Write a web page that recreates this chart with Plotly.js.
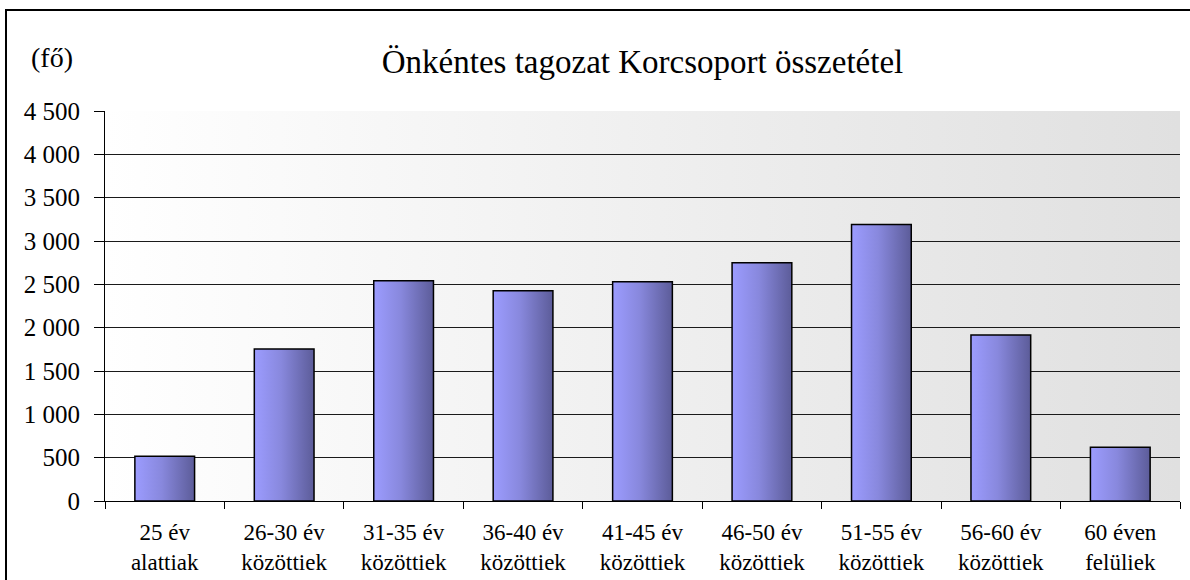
<!DOCTYPE html>
<html>
<head>
<meta charset="utf-8">
<script src="https://cdn.plot.ly/plotly-3.0.1.min.js"></script>
<style>
  html, body { margin: 0; padding: 0; background: #fff; }
  #wrap { position: relative; width: 1190px; height: 580px; overflow: hidden; }
  #plot { width: 1190px; height: 580px; }
  #plot text, #plot tspan { font-family: "Times New Roman", "Liberation Serif", serif !important; }
  #frame { position: absolute; left: 5px; top: 9px; width: 1200px; height: 600px;
           border: 2px solid #000; pointer-events: none; box-sizing: border-box; }
</style>
</head>
<body>
<div id="wrap">
  <div id="plot"></div>
  <div id="frame"></div>
</div>
<script>
const categories = [
  "25 év<br>alattiak",
  "26-30 év<br>közöttiek",
  "31-35 év<br>közöttiek",
  "36-40 év<br>közöttiek",
  "41-45 év<br>közöttiek",
  "46-50 év<br>közöttiek",
  "51-55 év<br>közöttiek",
  "56-60 év<br>közöttiek",
  "60 éven<br>felüliek"
];
const values = [515, 1755, 2540, 2425, 2530, 2750, 3190, 1915, 620];
const yTicks = [0, 500, 1000, 1500, 2000, 2500, 3000, 3500, 4000, 4500];
const titleText = "Önkéntes tagozat Korcsoport összetétel";
const unitText = "(fő)";

const fontName = "Times New Roman";

const trace = {
  type: "bar",
  x: categories,
  y: values,
  width: 0.5,
  marker: { color: "#7b7bcc", line: { color: "#000", width: 1.5 } },
  hoverinfo: "none"
};

const layout = {
  width: 1190,
  height: 580,
  margin: { l: 105, r: 10, t: 111, b: 79 },
  paper_bgcolor: "rgba(0,0,0,0)",
  plot_bgcolor: "#f0f0f0",
  separators: ", ",
  font: { size: 23, color: "#000" },
  showlegend: false,
  bargap: 0.5,
  title: {
    text: titleText,
    font: { family: fontName, size: 33, color: "#000" },
    x: 0.5, xref: "paper", xanchor: "center",
    y: 1 - 61 / 580, yref: "container", yanchor: "middle"
  },
  annotations: [{
    text: unitText, showarrow: false,
    xref: "paper", yref: "paper",
    x: (52 - 105) / 1075, y: (501 - 57) / 390,
    xanchor: "center", yanchor: "middle",
    font: { family: fontName, size: 28, color: "#000" }
  }],
  xaxis: {
    type: "category",
    tickson: "boundaries",
    ticks: "outside", ticklen: 7, tickcolor: "#000", tickwidth: 1,
    showline: true, linecolor: "#000", linewidth: 1,
    showgrid: false, zeroline: false,
    ticklabelstandoff: 10,
    tickfont: { family: fontName, size: 23, color: "#000" },
    fixedrange: true
  },
  yaxis: {
    range: [0, 4500],
    tickvals: yTicks,
    tickformat: ",d",
    ticks: "outside", ticklen: 10, tickcolor: "#000", tickwidth: 1,
    showline: true, linecolor: "#000", linewidth: 1,
    showgrid: true, gridcolor: "#1a1a1a", gridwidth: 1,
    zeroline: false,
    ticklabelstandoff: 9,
    tickfont: { family: fontName, size: 25, color: "#000" },
    fixedrange: true
  }
};

function addGradients(gd) {
  const svg = gd.querySelector(".main-svg");
  if (!svg) return;
  let defs = svg.querySelector("defs");
  const NS = "http://www.w3.org/2000/svg";
  if (!defs) { defs = document.createElementNS(NS, "defs"); svg.insertBefore(defs, svg.firstChild); }
  function grad(id, stops) {
    const g = document.createElementNS(NS, "linearGradient");
    g.setAttribute("id", id);
    g.setAttribute("x1", "0"); g.setAttribute("y1", "0");
    g.setAttribute("x2", "1"); g.setAttribute("y2", "0");
    stops.forEach(([o, c]) => {
      const s = document.createElementNS(NS, "stop");
      s.setAttribute("offset", o);
      s.setAttribute("stop-color", c);
      g.appendChild(s);
    });
    defs.appendChild(g);
  }
  grad("barGrad", [["0%", "#9c9cff"], ["45%", "#8888dd"], ["100%", "#5c5c99"]]);
  grad("bgGrad", [["0%", "#ffffff"], ["100%", "#e0e0e0"]]);
  gd.querySelectorAll(".barlayer .point path").forEach(p => { p.style.fill = "url(#barGrad)"; });
  const bg = gd.querySelector(".bglayer rect.bg");
  if (bg) bg.style.fill = "url(#bgGrad)";
}

Plotly.newPlot("plot", [trace], layout, { displayModeBar: false })
  .then(gd => addGradients(gd));
</script>
</body>
</html>
